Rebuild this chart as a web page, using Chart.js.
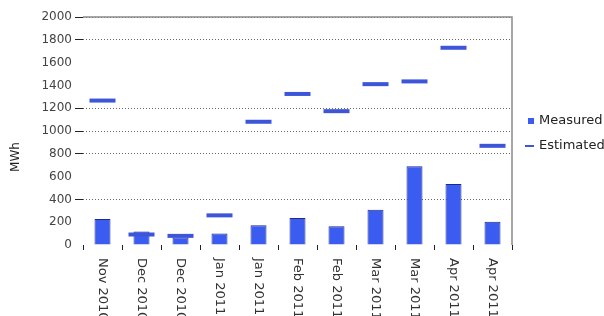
<!DOCTYPE html>
<html>
<head>
<meta charset="utf-8">
<script src="https://cdn.jsdelivr.net/npm/chart.js@4/dist/chart.umd.min.js"></script>
<style>
  body { margin: 0; background: #fff; overflow: hidden; }
  canvas { display: block; }
</style>
</head>
<body>
<canvas id="chart" width="604" height="316"></canvas>
<script>
// data
const months = ['Nov 2010', 'Dec 2010', 'Dec 2010', 'Jan 2011', 'Jan 2011', 'Feb 2011',
                'Feb 2011', 'Mar 2011', 'Mar 2011', 'Apr 2011', 'Apr 2011'];
const measured = [228, 118, 65, 100, 174, 237, 165, 310, 690, 536, 203];
const estimated = [1267, 92, 80, 260, 1081, 1325, 1174, 1411, 1435, 1730, 870];
const yTicks = [0, 200, 400, 600, 800, 1000, 1200, 1400, 1600, 1800, 2000];
const shownGrid = [400, 800, 1000, 1200, 1800, 2000];

const font = 'DejaVu Sans';

// x labels run top-to-bottom, legend and axis title drawn by hand
const extras = {
    id: 'extras',
    afterDraw(chart) {
        const c = chart.ctx;
        const area = chart.chartArea;
        const xs = chart.scales.x;

        // plot frame (top and right)
        c.save();
        c.strokeStyle = '#8a8a8a';
        c.lineWidth = 1.5;
        c.beginPath();
        c.moveTo(area.left, area.top);
        c.lineTo(area.right, area.top);
        c.lineTo(area.right, area.bottom);
        c.stroke();

        // category labels
        c.fillStyle = '#333';
        c.font = '13px "' + font + '"';
        c.textAlign = 'left';
        c.textBaseline = 'middle';
        months.forEach((m, i) => {
            c.save();
            c.translate(xs.getPixelForTick(i), 258);
            c.rotate(Math.PI / 2);
            c.fillText(m, 0, 0);
            c.restore();
        });

        // axis title
        c.font = '12px "' + font + '"';
        c.save();
        c.translate(16, 157);
        c.rotate(-Math.PI / 2);
        c.textAlign = 'center';
        c.fillStyle = '#222';
        c.fillText('MWh', 0, 0);
        c.restore();

        // legend
        c.font = '13px "' + font + '"';
        c.fillStyle = '#3a5cf0';
        c.fillRect(528, 118, 6, 6);
        c.fillStyle = '#3d55d8';
        c.fillRect(525, 145, 9, 2);
        c.fillStyle = '#222';
        c.textAlign = 'left';
        c.fillText('Measured', 539, 121);
        c.fillText('Estimated', 539, 146);
        c.restore();
    }
};

new Chart(document.getElementById('chart'), {
    data: {
        labels: months,
        datasets: [{
            type: 'bar',
            label: 'Measured',
            data: measured,
            backgroundColor: '#3a5cf0',
            borderColor: '#1c2a8a',
            borderWidth: 1,
            categoryPercentage: 1,
            barPercentage: 0.41,
            order: 2
        }, {
            type: 'line',
            label: 'Estimated',
            data: estimated,
            showLine: false,
            pointStyle: 'line',
            pointRadius: 13,
            pointHoverRadius: 13,
            pointBorderWidth: 4,
            borderColor: '#3d55d8',
            backgroundColor: '#3d55d8',
            order: 1
        }]
    },
    options: {
        responsive: false,
        animation: false,
        events: [],
        layout: { padding: { top: 15, right: 92, left: 0, bottom: 0 } },
        plugins: {
            legend: { display: false },
            tooltip: { enabled: false }
        },
        scales: {
            x: {
                offset: true,
                border: { display: false },
                grid: {
                    offset: true,
                    drawOnChartArea: false,
                    drawTicks: true,
                    tickLength: 5,
                    tickColor: '#222'
                },
                ticks: { color: 'transparent', maxRotation: 0, autoSkip: false },
                afterFit(s) { s.height = 71; }
            },
            y: {
                min: 0,
                max: 2000,
                afterBuildTicks(s) { s.ticks = yTicks.map(v => ({ value: v })); },
                border: { display: false, dash: [1, 2] },
                grid: {
                    color: ctx => shownGrid.includes(ctx.tick.value) ? '#666' : 'transparent',
                    tickColor: ctx => shownGrid.includes(ctx.tick.value) ? '#222' : 'transparent',
                    tickLength: 8,
                    lineWidth: 1
                },
                ticks: {
                    color: '#444',
                    padding: 3,
                    font: { family: font, size: 12 },
                    callback: v => String(v)
                },
                afterFit(s) { s.width = 83; }
            }
        }
    },
    plugins: [extras]
});
</script>
</body>
</html>
